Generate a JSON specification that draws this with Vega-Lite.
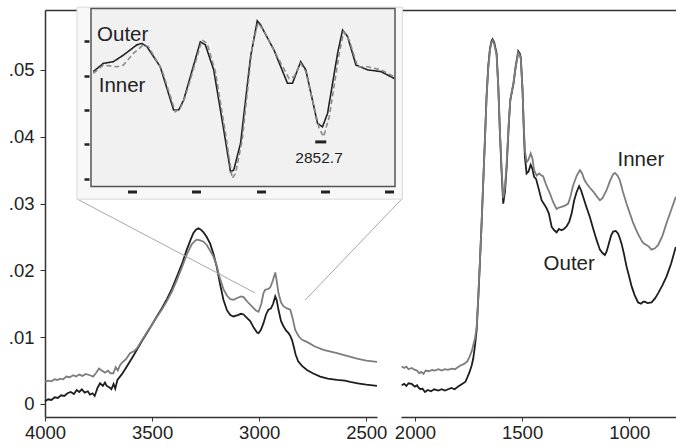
{
  "$schema": "https://vega.github.io/schema/vega-lite/v6.json",
  "width": 631,
  "height": 407,
  "padding": {"left": 45, "top": 10, "right": 0, "bottom": 30},
  "autosize": {"type": "none"},
  "background": "white",
  "config": {
    "view": {"stroke": null},
    "font": "Liberation Sans",
    "axis": {"labelFont": "Liberation Sans", "labelFontSize": 18.5, "labelColor": "#222222", "domainColor": "#333333", "tickColor": "#333333", "grid": false, "labelFlush": false, "labelOverlap": false}
  },
  "datasets": {
    "left": [
      {"wn": 4000, "v": 0.0004, "sample": "Outer"}, {"wn": 3985, "v": 0.0007, "sample": "Outer"}, {"wn": 3970, "v": 0.0006, "sample": "Outer"}, {"wn": 3955, "v": 0.0010, "sample": "Outer"}, {"wn": 3940, "v": 0.0009, "sample": "Outer"}, {"wn": 3925, "v": 0.0013, "sample": "Outer"}, {"wn": 3910, "v": 0.0012, "sample": "Outer"}, {"wn": 3895, "v": 0.0016, "sample": "Outer"}, {"wn": 3880, "v": 0.0018, "sample": "Outer"}, {"wn": 3865, "v": 0.0015, "sample": "Outer"}, {"wn": 3852, "v": 0.0021, "sample": "Outer"}, {"wn": 3840, "v": 0.0018, "sample": "Outer"}, {"wn": 3828, "v": 0.0022, "sample": "Outer"}, {"wn": 3815, "v": 0.0017, "sample": "Outer"}, {"wn": 3800, "v": 0.0019, "sample": "Outer"}, {"wn": 3790, "v": 0.0014, "sample": "Outer"}, {"wn": 3778, "v": 0.0016, "sample": "Outer"}, {"wn": 3768, "v": 0.0012, "sample": "Outer"}, {"wn": 3755, "v": 0.0024, "sample": "Outer"}, {"wn": 3743, "v": 0.0031, "sample": "Outer"}, {"wn": 3730, "v": 0.0027, "sample": "Outer"}, {"wn": 3720, "v": 0.0032, "sample": "Outer"}, {"wn": 3712, "v": 0.0027, "sample": "Outer"}, {"wn": 3700, "v": 0.0025, "sample": "Outer"}, {"wn": 3690, "v": 0.0022, "sample": "Outer"}, {"wn": 3680, "v": 0.0030, "sample": "Outer"}, {"wn": 3672, "v": 0.0023, "sample": "Outer"}, {"wn": 3662, "v": 0.0036, "sample": "Outer"}, {"wn": 3650, "v": 0.0041, "sample": "Outer"}, {"wn": 3640, "v": 0.0045, "sample": "Outer"}, {"wn": 3618, "v": 0.0056, "sample": "Outer"}, {"wn": 3595, "v": 0.0068, "sample": "Outer"}, {"wn": 3571, "v": 0.0081, "sample": "Outer"}, {"wn": 3548, "v": 0.0094, "sample": "Outer"}, {"wn": 3525, "v": 0.0106, "sample": "Outer"}, {"wn": 3500, "v": 0.0119, "sample": "Outer"}, {"wn": 3478, "v": 0.0131, "sample": "Outer"}, {"wn": 3455, "v": 0.0143, "sample": "Outer"}, {"wn": 3431, "v": 0.0157, "sample": "Outer"}, {"wn": 3408, "v": 0.0172, "sample": "Outer"}, {"wn": 3385, "v": 0.0190, "sample": "Outer"}, {"wn": 3360, "v": 0.0210, "sample": "Outer"}, {"wn": 3338, "v": 0.0231, "sample": "Outer"}, {"wn": 3320, "v": 0.0246, "sample": "Outer"}, {"wn": 3307, "v": 0.0256, "sample": "Outer"}, {"wn": 3295, "v": 0.0261, "sample": "Outer"}, {"wn": 3284, "v": 0.0263, "sample": "Outer"}, {"wn": 3272, "v": 0.0261, "sample": "Outer"}, {"wn": 3260, "v": 0.0257, "sample": "Outer"}, {"wn": 3245, "v": 0.0250, "sample": "Outer"}, {"wn": 3229, "v": 0.0240, "sample": "Outer"}, {"wn": 3213, "v": 0.0224, "sample": "Outer"}, {"wn": 3198, "v": 0.0205, "sample": "Outer"}, {"wn": 3183, "v": 0.0180, "sample": "Outer"}, {"wn": 3167, "v": 0.0156, "sample": "Outer"}, {"wn": 3150, "v": 0.0140, "sample": "Outer"}, {"wn": 3135, "v": 0.0133, "sample": "Outer"}, {"wn": 3120, "v": 0.0131, "sample": "Outer"}, {"wn": 3100, "v": 0.0133, "sample": "Outer"}, {"wn": 3085, "v": 0.0135, "sample": "Outer"}, {"wn": 3073, "v": 0.0134, "sample": "Outer"}, {"wn": 3055, "v": 0.0128, "sample": "Outer"}, {"wn": 3042, "v": 0.0124, "sample": "Outer"}, {"wn": 3025, "v": 0.0114, "sample": "Outer"}, {"wn": 3010, "v": 0.0107, "sample": "Outer"}, {"wn": 3003, "v": 0.0106, "sample": "Outer"}, {"wn": 2992, "v": 0.0111, "sample": "Outer"}, {"wn": 2980, "v": 0.0121, "sample": "Outer"}, {"wn": 2968, "v": 0.0134, "sample": "Outer"}, {"wn": 2957, "v": 0.0141, "sample": "Outer"}, {"wn": 2945, "v": 0.0143, "sample": "Outer"}, {"wn": 2935, "v": 0.0150, "sample": "Outer"}, {"wn": 2925, "v": 0.0161, "sample": "Outer"}, {"wn": 2918, "v": 0.0155, "sample": "Outer"}, {"wn": 2910, "v": 0.0141, "sample": "Outer"}, {"wn": 2898, "v": 0.0124, "sample": "Outer"}, {"wn": 2886, "v": 0.0116, "sample": "Outer"}, {"wn": 2875, "v": 0.0110, "sample": "Outer"}, {"wn": 2863, "v": 0.0106, "sample": "Outer"}, {"wn": 2855, "v": 0.0102, "sample": "Outer"}, {"wn": 2847, "v": 0.0096, "sample": "Outer"}, {"wn": 2838, "v": 0.0085, "sample": "Outer"}, {"wn": 2830, "v": 0.0074, "sample": "Outer"}, {"wn": 2818, "v": 0.0064, "sample": "Outer"}, {"wn": 2800, "v": 0.0057, "sample": "Outer"}, {"wn": 2777, "v": 0.0051, "sample": "Outer"}, {"wn": 2750, "v": 0.0046, "sample": "Outer"}, {"wn": 2715, "v": 0.0041, "sample": "Outer"}, {"wn": 2680, "v": 0.0038, "sample": "Outer"}, {"wn": 2637, "v": 0.0036, "sample": "Outer"}, {"wn": 2600, "v": 0.0035, "sample": "Outer"}, {"wn": 2575, "v": 0.0033, "sample": "Outer"}, {"wn": 2540, "v": 0.0031, "sample": "Outer"}, {"wn": 2500, "v": 0.0029, "sample": "Outer"}, {"wn": 2450, "v": 0.0027, "sample": "Outer"},
      {"wn": 4000, "v": 0.0033, "sample": "Inner"}, {"wn": 3985, "v": 0.0035, "sample": "Inner"}, {"wn": 3970, "v": 0.0034, "sample": "Inner"}, {"wn": 3955, "v": 0.0037, "sample": "Inner"}, {"wn": 3940, "v": 0.0036, "sample": "Inner"}, {"wn": 3930, "v": 0.0038, "sample": "Inner"}, {"wn": 3915, "v": 0.0037, "sample": "Inner"}, {"wn": 3900, "v": 0.0041, "sample": "Inner"}, {"wn": 3885, "v": 0.0040, "sample": "Inner"}, {"wn": 3868, "v": 0.0043, "sample": "Inner"}, {"wn": 3855, "v": 0.0041, "sample": "Inner"}, {"wn": 3840, "v": 0.0044, "sample": "Inner"}, {"wn": 3825, "v": 0.0042, "sample": "Inner"}, {"wn": 3810, "v": 0.0045, "sample": "Inner"}, {"wn": 3790, "v": 0.0043, "sample": "Inner"}, {"wn": 3775, "v": 0.0041, "sample": "Inner"}, {"wn": 3760, "v": 0.0047, "sample": "Inner"}, {"wn": 3748, "v": 0.0053, "sample": "Inner"}, {"wn": 3735, "v": 0.0050, "sample": "Inner"}, {"wn": 3720, "v": 0.0047, "sample": "Inner"}, {"wn": 3705, "v": 0.0050, "sample": "Inner"}, {"wn": 3695, "v": 0.0046, "sample": "Inner"}, {"wn": 3681, "v": 0.0046, "sample": "Inner"}, {"wn": 3670, "v": 0.0055, "sample": "Inner"}, {"wn": 3660, "v": 0.0050, "sample": "Inner"}, {"wn": 3650, "v": 0.0058, "sample": "Inner"}, {"wn": 3640, "v": 0.0062, "sample": "Inner"}, {"wn": 3620, "v": 0.0068, "sample": "Inner"}, {"wn": 3603, "v": 0.0076, "sample": "Inner"}, {"wn": 3585, "v": 0.0079, "sample": "Inner"}, {"wn": 3571, "v": 0.0083, "sample": "Inner"}, {"wn": 3548, "v": 0.0095, "sample": "Inner"}, {"wn": 3525, "v": 0.0107, "sample": "Inner"}, {"wn": 3500, "v": 0.0119, "sample": "Inner"}, {"wn": 3478, "v": 0.0130, "sample": "Inner"}, {"wn": 3455, "v": 0.0141, "sample": "Inner"}, {"wn": 3431, "v": 0.0154, "sample": "Inner"}, {"wn": 3408, "v": 0.0168, "sample": "Inner"}, {"wn": 3385, "v": 0.0185, "sample": "Inner"}, {"wn": 3360, "v": 0.0205, "sample": "Inner"}, {"wn": 3338, "v": 0.0224, "sample": "Inner"}, {"wn": 3315, "v": 0.0239, "sample": "Inner"}, {"wn": 3300, "v": 0.0244, "sample": "Inner"}, {"wn": 3291, "v": 0.0246, "sample": "Inner"}, {"wn": 3275, "v": 0.0245, "sample": "Inner"}, {"wn": 3260, "v": 0.0243, "sample": "Inner"}, {"wn": 3245, "v": 0.0238, "sample": "Inner"}, {"wn": 3230, "v": 0.0230, "sample": "Inner"}, {"wn": 3214, "v": 0.0221, "sample": "Inner"}, {"wn": 3200, "v": 0.0209, "sample": "Inner"}, {"wn": 3185, "v": 0.0190, "sample": "Inner"}, {"wn": 3167, "v": 0.0172, "sample": "Inner"}, {"wn": 3150, "v": 0.0162, "sample": "Inner"}, {"wn": 3135, "v": 0.0157, "sample": "Inner"}, {"wn": 3120, "v": 0.0156, "sample": "Inner"}, {"wn": 3100, "v": 0.0159, "sample": "Inner"}, {"wn": 3085, "v": 0.0161, "sample": "Inner"}, {"wn": 3073, "v": 0.0160, "sample": "Inner"}, {"wn": 3055, "v": 0.0153, "sample": "Inner"}, {"wn": 3034, "v": 0.0146, "sample": "Inner"}, {"wn": 3015, "v": 0.0140, "sample": "Inner"}, {"wn": 3003, "v": 0.0138, "sample": "Inner"}, {"wn": 2990, "v": 0.0150, "sample": "Inner"}, {"wn": 2980, "v": 0.0166, "sample": "Inner"}, {"wn": 2972, "v": 0.0171, "sample": "Inner"}, {"wn": 2960, "v": 0.0172, "sample": "Inner"}, {"wn": 2949, "v": 0.0174, "sample": "Inner"}, {"wn": 2937, "v": 0.0184, "sample": "Inner"}, {"wn": 2925, "v": 0.0197, "sample": "Inner"}, {"wn": 2918, "v": 0.0184, "sample": "Inner"}, {"wn": 2910, "v": 0.0166, "sample": "Inner"}, {"wn": 2898, "v": 0.0152, "sample": "Inner"}, {"wn": 2886, "v": 0.0146, "sample": "Inner"}, {"wn": 2870, "v": 0.0143, "sample": "Inner"}, {"wn": 2855, "v": 0.0141, "sample": "Inner"}, {"wn": 2845, "v": 0.0130, "sample": "Inner"}, {"wn": 2832, "v": 0.0111, "sample": "Inner"}, {"wn": 2815, "v": 0.0101, "sample": "Inner"}, {"wn": 2800, "v": 0.0096, "sample": "Inner"}, {"wn": 2777, "v": 0.0093, "sample": "Inner"}, {"wn": 2740, "v": 0.0086, "sample": "Inner"}, {"wn": 2700, "v": 0.0081, "sample": "Inner"}, {"wn": 2637, "v": 0.0076, "sample": "Inner"}, {"wn": 2590, "v": 0.0072, "sample": "Inner"}, {"wn": 2543, "v": 0.0068, "sample": "Inner"}, {"wn": 2500, "v": 0.0065, "sample": "Inner"}, {"wn": 2450, "v": 0.0063, "sample": "Inner"}
    ],
    "right": [
      {"wn": 2062, "v": 0.0028, "sample": "Outer"}, {"wn": 2050, "v": 0.0030, "sample": "Outer"}, {"wn": 2040, "v": 0.0027, "sample": "Outer"}, {"wn": 2030, "v": 0.0031, "sample": "Outer"}, {"wn": 2015, "v": 0.0030, "sample": "Outer"}, {"wn": 2000, "v": 0.0026, "sample": "Outer"}, {"wn": 1990, "v": 0.0028, "sample": "Outer"}, {"wn": 1985, "v": 0.0025, "sample": "Outer"}, {"wn": 1975, "v": 0.0022, "sample": "Outer"}, {"wn": 1965, "v": 0.0023, "sample": "Outer"}, {"wn": 1953, "v": 0.0018, "sample": "Outer"}, {"wn": 1940, "v": 0.0021, "sample": "Outer"}, {"wn": 1925, "v": 0.0019, "sample": "Outer"}, {"wn": 1910, "v": 0.0022, "sample": "Outer"}, {"wn": 1891, "v": 0.0020, "sample": "Outer"}, {"wn": 1875, "v": 0.0022, "sample": "Outer"}, {"wn": 1860, "v": 0.0020, "sample": "Outer"}, {"wn": 1845, "v": 0.0022, "sample": "Outer"}, {"wn": 1830, "v": 0.0024, "sample": "Outer"}, {"wn": 1815, "v": 0.0022, "sample": "Outer"}, {"wn": 1798, "v": 0.0026, "sample": "Outer"}, {"wn": 1780, "v": 0.0030, "sample": "Outer"}, {"wn": 1765, "v": 0.0033, "sample": "Outer"}, {"wn": 1759, "v": 0.0037, "sample": "Outer"}, {"wn": 1745, "v": 0.0048, "sample": "Outer"}, {"wn": 1735, "v": 0.0058, "sample": "Outer"}, {"wn": 1728, "v": 0.0068, "sample": "Outer"}, {"wn": 1720, "v": 0.0087, "sample": "Outer"}, {"wn": 1712, "v": 0.0111, "sample": "Outer"}, {"wn": 1705, "v": 0.0155, "sample": "Outer"}, {"wn": 1697, "v": 0.0211, "sample": "Outer"}, {"wn": 1689, "v": 0.0270, "sample": "Outer"}, {"wn": 1681, "v": 0.0335, "sample": "Outer"}, {"wn": 1673, "v": 0.0400, "sample": "Outer"}, {"wn": 1666, "v": 0.0460, "sample": "Outer"}, {"wn": 1658, "v": 0.0505, "sample": "Outer"}, {"wn": 1650, "v": 0.0532, "sample": "Outer"}, {"wn": 1643, "v": 0.0543, "sample": "Outer"}, {"wn": 1638, "v": 0.0546, "sample": "Outer"}, {"wn": 1630, "v": 0.0541, "sample": "Outer"}, {"wn": 1619, "v": 0.0525, "sample": "Outer"}, {"wn": 1611, "v": 0.0475, "sample": "Outer"}, {"wn": 1604, "v": 0.0410, "sample": "Outer"}, {"wn": 1596, "v": 0.0350, "sample": "Outer"}, {"wn": 1588, "v": 0.0300, "sample": "Outer"}, {"wn": 1580, "v": 0.0318, "sample": "Outer"}, {"wn": 1572, "v": 0.0355, "sample": "Outer"}, {"wn": 1562, "v": 0.0420, "sample": "Outer"}, {"wn": 1555, "v": 0.0455, "sample": "Outer"}, {"wn": 1549, "v": 0.0465, "sample": "Outer"}, {"wn": 1540, "v": 0.0480, "sample": "Outer"}, {"wn": 1530, "v": 0.0505, "sample": "Outer"}, {"wn": 1518, "v": 0.0528, "sample": "Outer"}, {"wn": 1510, "v": 0.0524, "sample": "Outer"}, {"wn": 1506, "v": 0.0518, "sample": "Outer"}, {"wn": 1498, "v": 0.0470, "sample": "Outer"}, {"wn": 1492, "v": 0.0410, "sample": "Outer"}, {"wn": 1487, "v": 0.0370, "sample": "Outer"}, {"wn": 1479, "v": 0.0345, "sample": "Outer"}, {"wn": 1470, "v": 0.0348, "sample": "Outer"}, {"wn": 1460, "v": 0.0358, "sample": "Outer"}, {"wn": 1452, "v": 0.0352, "sample": "Outer"}, {"wn": 1444, "v": 0.0340, "sample": "Outer"}, {"wn": 1435, "v": 0.0337, "sample": "Outer"}, {"wn": 1425, "v": 0.0325, "sample": "Outer"}, {"wn": 1409, "v": 0.0305, "sample": "Outer"}, {"wn": 1395, "v": 0.0298, "sample": "Outer"}, {"wn": 1386, "v": 0.0293, "sample": "Outer"}, {"wn": 1375, "v": 0.0285, "sample": "Outer"}, {"wn": 1362, "v": 0.0265, "sample": "Outer"}, {"wn": 1350, "v": 0.0260, "sample": "Outer"}, {"wn": 1339, "v": 0.0257, "sample": "Outer"}, {"wn": 1328, "v": 0.0262, "sample": "Outer"}, {"wn": 1316, "v": 0.0260, "sample": "Outer"}, {"wn": 1305, "v": 0.0262, "sample": "Outer"}, {"wn": 1292, "v": 0.0266, "sample": "Outer"}, {"wn": 1280, "v": 0.0273, "sample": "Outer"}, {"wn": 1269, "v": 0.0285, "sample": "Outer"}, {"wn": 1257, "v": 0.0305, "sample": "Outer"}, {"wn": 1246, "v": 0.0317, "sample": "Outer"}, {"wn": 1234, "v": 0.0326, "sample": "Outer"}, {"wn": 1225, "v": 0.0320, "sample": "Outer"}, {"wn": 1215, "v": 0.0310, "sample": "Outer"}, {"wn": 1200, "v": 0.0295, "sample": "Outer"}, {"wn": 1184, "v": 0.0280, "sample": "Outer"}, {"wn": 1168, "v": 0.0262, "sample": "Outer"}, {"wn": 1153, "v": 0.0246, "sample": "Outer"}, {"wn": 1137, "v": 0.0231, "sample": "Outer"}, {"wn": 1125, "v": 0.0226, "sample": "Outer"}, {"wn": 1114, "v": 0.0223, "sample": "Outer"}, {"wn": 1106, "v": 0.0228, "sample": "Outer"}, {"wn": 1098, "v": 0.0237, "sample": "Outer"}, {"wn": 1085, "v": 0.0252, "sample": "Outer"}, {"wn": 1075, "v": 0.0258, "sample": "Outer"}, {"wn": 1063, "v": 0.0259, "sample": "Outer"}, {"wn": 1052, "v": 0.0255, "sample": "Outer"}, {"wn": 1044, "v": 0.0248, "sample": "Outer"}, {"wn": 1036, "v": 0.0240, "sample": "Outer"}, {"wn": 1025, "v": 0.0225, "sample": "Outer"}, {"wn": 1013, "v": 0.0206, "sample": "Outer"}, {"wn": 1000, "v": 0.0190, "sample": "Outer"}, {"wn": 989, "v": 0.0176, "sample": "Outer"}, {"wn": 975, "v": 0.0163, "sample": "Outer"}, {"wn": 959, "v": 0.0152, "sample": "Outer"}, {"wn": 945, "v": 0.0150, "sample": "Outer"}, {"wn": 935, "v": 0.0153, "sample": "Outer"}, {"wn": 927, "v": 0.0153, "sample": "Outer"}, {"wn": 915, "v": 0.0151, "sample": "Outer"}, {"wn": 896, "v": 0.0152, "sample": "Outer"}, {"wn": 880, "v": 0.0158, "sample": "Outer"}, {"wn": 865, "v": 0.0166, "sample": "Outer"}, {"wn": 845, "v": 0.0178, "sample": "Outer"}, {"wn": 826, "v": 0.0191, "sample": "Outer"}, {"wn": 805, "v": 0.0210, "sample": "Outer"}, {"wn": 783, "v": 0.0235, "sample": "Outer"},
      {"wn": 2062, "v": 0.0056, "sample": "Inner"}, {"wn": 2050, "v": 0.0054, "sample": "Inner"}, {"wn": 2040, "v": 0.0056, "sample": "Inner"}, {"wn": 2030, "v": 0.0052, "sample": "Inner"}, {"wn": 2015, "v": 0.0054, "sample": "Inner"}, {"wn": 2000, "v": 0.0051, "sample": "Inner"}, {"wn": 1990, "v": 0.0050, "sample": "Inner"}, {"wn": 1980, "v": 0.0046, "sample": "Inner"}, {"wn": 1970, "v": 0.0048, "sample": "Inner"}, {"wn": 1960, "v": 0.0045, "sample": "Inner"}, {"wn": 1950, "v": 0.0050, "sample": "Inner"}, {"wn": 1935, "v": 0.0049, "sample": "Inner"}, {"wn": 1920, "v": 0.0051, "sample": "Inner"}, {"wn": 1907, "v": 0.0050, "sample": "Inner"}, {"wn": 1890, "v": 0.0052, "sample": "Inner"}, {"wn": 1875, "v": 0.0050, "sample": "Inner"}, {"wn": 1860, "v": 0.0052, "sample": "Inner"}, {"wn": 1845, "v": 0.0051, "sample": "Inner"}, {"wn": 1830, "v": 0.0053, "sample": "Inner"}, {"wn": 1813, "v": 0.0052, "sample": "Inner"}, {"wn": 1800, "v": 0.0055, "sample": "Inner"}, {"wn": 1785, "v": 0.0058, "sample": "Inner"}, {"wn": 1770, "v": 0.0060, "sample": "Inner"}, {"wn": 1755, "v": 0.0064, "sample": "Inner"}, {"wn": 1745, "v": 0.0071, "sample": "Inner"}, {"wn": 1735, "v": 0.0079, "sample": "Inner"}, {"wn": 1728, "v": 0.0088, "sample": "Inner"}, {"wn": 1720, "v": 0.0098, "sample": "Inner"}, {"wn": 1712, "v": 0.0115, "sample": "Inner"}, {"wn": 1705, "v": 0.0157, "sample": "Inner"}, {"wn": 1697, "v": 0.0212, "sample": "Inner"}, {"wn": 1689, "v": 0.0270, "sample": "Inner"}, {"wn": 1681, "v": 0.0334, "sample": "Inner"}, {"wn": 1673, "v": 0.0398, "sample": "Inner"}, {"wn": 1666, "v": 0.0457, "sample": "Inner"}, {"wn": 1658, "v": 0.0503, "sample": "Inner"}, {"wn": 1650, "v": 0.0530, "sample": "Inner"}, {"wn": 1643, "v": 0.0541, "sample": "Inner"}, {"wn": 1638, "v": 0.0544, "sample": "Inner"}, {"wn": 1630, "v": 0.0539, "sample": "Inner"}, {"wn": 1619, "v": 0.0522, "sample": "Inner"}, {"wn": 1611, "v": 0.0474, "sample": "Inner"}, {"wn": 1604, "v": 0.0412, "sample": "Inner"}, {"wn": 1596, "v": 0.0355, "sample": "Inner"}, {"wn": 1588, "v": 0.0308, "sample": "Inner"}, {"wn": 1580, "v": 0.0325, "sample": "Inner"}, {"wn": 1572, "v": 0.0360, "sample": "Inner"}, {"wn": 1562, "v": 0.0422, "sample": "Inner"}, {"wn": 1555, "v": 0.0456, "sample": "Inner"}, {"wn": 1549, "v": 0.0466, "sample": "Inner"}, {"wn": 1540, "v": 0.0481, "sample": "Inner"}, {"wn": 1530, "v": 0.0505, "sample": "Inner"}, {"wn": 1518, "v": 0.0526, "sample": "Inner"}, {"wn": 1510, "v": 0.0522, "sample": "Inner"}, {"wn": 1506, "v": 0.0516, "sample": "Inner"}, {"wn": 1498, "v": 0.0470, "sample": "Inner"}, {"wn": 1492, "v": 0.0415, "sample": "Inner"}, {"wn": 1487, "v": 0.0380, "sample": "Inner"}, {"wn": 1479, "v": 0.0362, "sample": "Inner"}, {"wn": 1470, "v": 0.0366, "sample": "Inner"}, {"wn": 1460, "v": 0.0375, "sample": "Inner"}, {"wn": 1452, "v": 0.0368, "sample": "Inner"}, {"wn": 1444, "v": 0.0350, "sample": "Inner"}, {"wn": 1432, "v": 0.0342, "sample": "Inner"}, {"wn": 1420, "v": 0.0345, "sample": "Inner"}, {"wn": 1410, "v": 0.0342, "sample": "Inner"}, {"wn": 1402, "v": 0.0341, "sample": "Inner"}, {"wn": 1390, "v": 0.0330, "sample": "Inner"}, {"wn": 1380, "v": 0.0322, "sample": "Inner"}, {"wn": 1370, "v": 0.0315, "sample": "Inner"}, {"wn": 1355, "v": 0.0302, "sample": "Inner"}, {"wn": 1339, "v": 0.0292, "sample": "Inner"}, {"wn": 1328, "v": 0.0294, "sample": "Inner"}, {"wn": 1316, "v": 0.0295, "sample": "Inner"}, {"wn": 1300, "v": 0.0297, "sample": "Inner"}, {"wn": 1285, "v": 0.0300, "sample": "Inner"}, {"wn": 1275, "v": 0.0310, "sample": "Inner"}, {"wn": 1262, "v": 0.0327, "sample": "Inner"}, {"wn": 1245, "v": 0.0342, "sample": "Inner"}, {"wn": 1230, "v": 0.0350, "sample": "Inner"}, {"wn": 1220, "v": 0.0345, "sample": "Inner"}, {"wn": 1210, "v": 0.0336, "sample": "Inner"}, {"wn": 1199, "v": 0.0330, "sample": "Inner"}, {"wn": 1185, "v": 0.0324, "sample": "Inner"}, {"wn": 1168, "v": 0.0318, "sample": "Inner"}, {"wn": 1150, "v": 0.0310, "sample": "Inner"}, {"wn": 1137, "v": 0.0305, "sample": "Inner"}, {"wn": 1125, "v": 0.0308, "sample": "Inner"}, {"wn": 1106, "v": 0.0320, "sample": "Inner"}, {"wn": 1090, "v": 0.0334, "sample": "Inner"}, {"wn": 1075, "v": 0.0344, "sample": "Inner"}, {"wn": 1067, "v": 0.0346, "sample": "Inner"}, {"wn": 1055, "v": 0.0342, "sample": "Inner"}, {"wn": 1044, "v": 0.0335, "sample": "Inner"}, {"wn": 1030, "v": 0.0318, "sample": "Inner"}, {"wn": 1013, "v": 0.0300, "sample": "Inner"}, {"wn": 1000, "v": 0.0288, "sample": "Inner"}, {"wn": 982, "v": 0.0271, "sample": "Inner"}, {"wn": 960, "v": 0.0255, "sample": "Inner"}, {"wn": 945, "v": 0.0246, "sample": "Inner"}, {"wn": 935, "v": 0.0241, "sample": "Inner"}, {"wn": 920, "v": 0.0238, "sample": "Inner"}, {"wn": 910, "v": 0.0236, "sample": "Inner"}, {"wn": 896, "v": 0.0231, "sample": "Inner"}, {"wn": 880, "v": 0.0233, "sample": "Inner"}, {"wn": 865, "v": 0.0238, "sample": "Inner"}, {"wn": 845, "v": 0.0252, "sample": "Inner"}, {"wn": 826, "v": 0.0271, "sample": "Inner"}, {"wn": 805, "v": 0.0290, "sample": "Inner"}, {"wn": 783, "v": 0.0310, "sample": "Inner"}
    ],
    "inset": [
      {"wn": 3030.2, "v": 1.12, "sample": "Outer"}, {"wn": 3022.4, "v": 1.36, "sample": "Outer"}, {"wn": 3014.6, "v": 1.41, "sample": "Outer"}, {"wn": 3006.8, "v": 1.60, "sample": "Outer"}, {"wn": 2996.3, "v": 1.90, "sample": "Outer"}, {"wn": 2992.4, "v": 1.94, "sample": "Outer"}, {"wn": 2988.5, "v": 1.85, "sample": "Outer"}, {"wn": 2978.1, "v": 1.26, "sample": "Outer"}, {"wn": 2967.7, "v": 0.0, "sample": "Outer"}, {"wn": 2963.8, "v": 0.0, "sample": "Outer"}, {"wn": 2959.9, "v": 0.29, "sample": "Outer"}, {"wn": 2946.9, "v": 1.99, "sample": "Outer"}, {"wn": 2943.0, "v": 1.90, "sample": "Outer"}, {"wn": 2936.5, "v": 1.17, "sample": "Outer"}, {"wn": 2928.7, "v": -0.58, "sample": "Outer"}, {"wn": 2923.4, "v": -1.80, "sample": "Outer"}, {"wn": 2920.9, "v": -1.75, "sample": "Outer"}, {"wn": 2915.6, "v": -0.97, "sample": "Outer"}, {"wn": 2907.8, "v": 1.55, "sample": "Outer"}, {"wn": 2902.6, "v": 2.60, "sample": "Outer"}, {"wn": 2900.0, "v": 2.48, "sample": "Outer"}, {"wn": 2889.6, "v": 1.75, "sample": "Outer"}, {"wn": 2879.1, "v": 0.78, "sample": "Outer"}, {"wn": 2875.2, "v": 0.78, "sample": "Outer"}, {"wn": 2868.8, "v": 1.41, "sample": "Outer"}, {"wn": 2864.8, "v": 1.17, "sample": "Outer"}, {"wn": 2855.7, "v": -0.39, "sample": "Outer"}, {"wn": 2851.8, "v": -0.49, "sample": "Outer"}, {"wn": 2847.9, "v": -0.10, "sample": "Outer"}, {"wn": 2840.1, "v": 1.65, "sample": "Outer"}, {"wn": 2836.2, "v": 2.33, "sample": "Outer"}, {"wn": 2832.3, "v": 2.14, "sample": "Outer"}, {"wn": 2825.8, "v": 1.31, "sample": "Outer"}, {"wn": 2816.6, "v": 1.17, "sample": "Outer"}, {"wn": 2806.3, "v": 1.12, "sample": "Outer"}, {"wn": 2796.0, "v": 0.92, "sample": "Outer"},
      {"wn": 3030.2, "v": 1.07, "sample": "Inner"}, {"wn": 3022.4, "v": 1.31, "sample": "Inner"}, {"wn": 3011.9, "v": 1.26, "sample": "Inner"}, {"wn": 3006.8, "v": 1.31, "sample": "Inner"}, {"wn": 2999.0, "v": 1.65, "sample": "Inner"}, {"wn": 2991.2, "v": 1.90, "sample": "Inner"}, {"wn": 2987.3, "v": 1.85, "sample": "Inner"}, {"wn": 2976.8, "v": 1.17, "sample": "Inner"}, {"wn": 2966.4, "v": -0.05, "sample": "Inner"}, {"wn": 2962.5, "v": 0.05, "sample": "Inner"}, {"wn": 2958.6, "v": 0.39, "sample": "Inner"}, {"wn": 2945.6, "v": 2.04, "sample": "Inner"}, {"wn": 2941.6, "v": 1.94, "sample": "Inner"}, {"wn": 2935.2, "v": 1.12, "sample": "Inner"}, {"wn": 2927.3, "v": -0.68, "sample": "Inner"}, {"wn": 2922.1, "v": -1.99, "sample": "Inner"}, {"wn": 2919.5, "v": -1.85, "sample": "Inner"}, {"wn": 2914.3, "v": -0.87, "sample": "Inner"}, {"wn": 2906.5, "v": 1.85, "sample": "Inner"}, {"wn": 2902.1, "v": 2.53, "sample": "Inner"}, {"wn": 2898.7, "v": 2.38, "sample": "Inner"}, {"wn": 2888.3, "v": 1.65, "sample": "Inner"}, {"wn": 2877.9, "v": 0.92, "sample": "Inner"}, {"wn": 2874.0, "v": 0.97, "sample": "Inner"}, {"wn": 2868.8, "v": 1.36, "sample": "Inner"}, {"wn": 2864.8, "v": 1.12, "sample": "Inner"}, {"wn": 2854.5, "v": -0.53, "sample": "Inner"}, {"wn": 2851.0, "v": -0.78, "sample": "Inner"}, {"wn": 2846.6, "v": -0.20, "sample": "Inner"}, {"wn": 2838.8, "v": 1.65, "sample": "Inner"}, {"wn": 2835.4, "v": 2.28, "sample": "Inner"}, {"wn": 2831.0, "v": 2.04, "sample": "Inner"}, {"wn": 2824.5, "v": 1.26, "sample": "Inner"}, {"wn": 2816.6, "v": 1.26, "sample": "Inner"}, {"wn": 2806.3, "v": 1.17, "sample": "Inner"}, {"wn": 2796.0, "v": 0.97, "sample": "Inner"}
    ]
  },
  "layer": [
    {
      "data": {"name": "left"},
      "mark": {"type": "line", "opacity": 0},
      "encoding": {
        "x": {"field": "wn", "type": "quantitative", "scale": {"domain": [4000, 2450], "range": [0, 631], "nice": false, "zero": false}, "axis": {"orient": "top", "title": null, "labels": false, "ticks": false, "domainWidth": 1.5, "domainColor": "#333333"}},
        "y": {"field": "v", "type": "quantitative", "scale": {"domain": [-0.00195, 0.05898], "range": [407, 0], "nice": false, "zero": false}, "axis": null}
      }
    },
    {
      "data": {"name": "left"},
      "mark": {"type": "line", "strokeWidth": 1.8},
      "encoding": {
        "x": {"field": "wn", "type": "quantitative", "scale": {"domain": [4000, 2450], "range": [0, 332], "nice": false, "zero": false}, "axis": {"orient": "bottom", "title": null, "values": [4000, 3500, 3000, 2500], "format": "d", "tickSize": 4, "labelPadding": 2, "domainWidth": 1.5, "labelFlush": false, "labelFontSize": 18.5}},
        "y": {"field": "v", "type": "quantitative", "scale": {"domain": [-0.00195, 0.05898], "range": [407, 0], "nice": false, "zero": false}, "axis": {"orient": "left", "title": null, "values": [0, 0.01, 0.02, 0.03, 0.04, 0.05], "labelExpr": "datum.value == 0 ? '0' : replace(format(datum.value, '.2f'), '0.', '.')", "tickSize": 5, "labelPadding": 6, "domainWidth": 1.5, "labelFontSize": 18.5}},
        "color": {"field": "sample", "type": "nominal", "scale": {"domain": ["Inner", "Outer"], "range": ["#7d7d7d", "#1e1e1e"]}, "legend": null}
      }
    },
    {
      "data": {"name": "right"},
      "mark": {"type": "line", "strokeWidth": 1.8},
      "encoding": {
        "x": {"field": "wn", "type": "quantitative", "scale": {"domain": [2065, 782], "range": [356, 631], "nice": false, "zero": false}, "axis": {"orient": "bottom", "title": null, "values": [2000, 1500, 1000], "format": "d", "tickSize": 4, "labelPadding": 2, "domainWidth": 1.5, "labelFlush": false, "labelFontSize": 18.5}},
        "y": {"field": "v", "type": "quantitative", "scale": {"domain": [-0.00195, 0.05898], "range": [407, 0], "nice": false, "zero": false}, "axis": null},
        "color": {"field": "sample", "type": "nominal", "scale": {"domain": ["Inner", "Outer"], "range": ["#7d7d7d", "#1e1e1e"]}, "legend": null}
      }
    },
    {
      "data": {"values": [{"wn": 1055, "v": 0.0357, "label": "Inner"}, {"wn": 1400, "v": 0.0200, "label": "Outer"}]},
      "mark": {"type": "text", "align": "left", "baseline": "alphabetic", "fontSize": 20.5, "font": "Liberation Sans", "color": "#222222"},
      "encoding": {
        "x": {"field": "wn", "type": "quantitative", "scale": {"domain": [2065, 782], "range": [356, 631], "nice": false, "zero": false}, "axis": null},
        "y": {"field": "v", "type": "quantitative", "scale": {"domain": [-0.00195, 0.05898], "range": [407, 0], "nice": false, "zero": false}, "axis": null},
        "text": {"field": "label"}
      }
    },
    {
      "data": {"values": [{"a": 3850.5, "b": 0.03069, "c": 3018.7, "d": 0.01662}, {"a": 2334, "b": 0.03069, "c": 2785, "d": 0.01557}]},
      "mark": {"type": "rule", "color": "#a8a8a8", "strokeWidth": 1},
      "encoding": {
        "x": {"field": "a", "type": "quantitative", "scale": {"domain": [4000, 2450], "range": [0, 332], "nice": false, "zero": false}, "axis": null},
        "x2": {"field": "c"},
        "y": {"field": "b", "type": "quantitative", "scale": {"domain": [-0.00195, 0.05898], "range": [407, 0], "nice": false, "zero": false}, "axis": null},
        "y2": {"field": "d"}
      }
    },
    {
      "data": {"values": [{"a": 3042.9, "b": 3.0, "c": 2789.6, "d": -2.6}]},
      "mark": {"type": "rect", "fill": "#f8f8f8", "stroke": "#d9d9d9", "strokeWidth": 1},
      "encoding": {
        "x": {"field": "a", "type": "quantitative", "scale": {"domain": [3032, 2795.4], "range": [46, 350], "nice": false, "zero": false}, "axis": null},
        "x2": {"field": "c"},
        "y": {"field": "b", "type": "quantitative", "scale": {"domain": [-2.23, 2.96], "range": [176.5, -1.5], "nice": false, "zero": false}, "axis": null},
        "y2": {"field": "d"}
      }
    },
    {
      "data": {"values": [{"a": 3032, "b": 2.96, "c": 2795.4, "d": -2.23}]},
      "mark": {"type": "rect", "fill": "#f1f1f1", "stroke": "#555555", "strokeWidth": 1.5},
      "encoding": {
        "x": {"field": "a", "type": "quantitative", "scale": {"domain": [3032, 2795.4], "range": [46, 350], "nice": false, "zero": false}, "axis": {"orient": "bottom", "title": null, "values": [3000, 2950, 2900, 2850, 2800], "labels": false, "domain": false, "tickSize": 3, "tickWidth": 9, "tickColor": "#222222", "offset": -227, "zindex": 2}},
        "x2": {"field": "c"},
        "y": {"field": "b", "type": "quantitative", "scale": {"domain": [-2.23, 2.96], "range": [176.5, -1.5], "nice": false, "zero": false}, "axis": {"orient": "left", "title": null, "values": [2, 1, 0, -1, -2], "labels": false, "domain": false, "tickSize": 5, "tickWidth": 2.5, "tickColor": "#222222", "offset": -44, "zindex": 2}},
        "y2": {"field": "d"}
      }
    },
    {
      "data": {"name": "inset"},
      "mark": {"type": "line", "strokeWidth": 1.6},
      "encoding": {
        "x": {"field": "wn", "type": "quantitative", "scale": {"domain": [3032, 2795.4], "range": [46, 350], "nice": false, "zero": false}, "axis": null},
        "y": {"field": "v", "type": "quantitative", "scale": {"domain": [-2.23, 2.96], "range": [176.5, -1.5], "nice": false, "zero": false}, "axis": null},
        "color": {"field": "sample", "type": "nominal", "scale": {"domain": ["Inner", "Outer"], "range": ["#8a8a8a", "#222222"]}, "legend": null},
        "strokeDash": {"field": "sample", "type": "nominal", "scale": {"domain": ["Inner", "Outer"], "range": [[5, 3], [1, 0]]}, "legend": null}
      }
    },
    {
      "data": {"values": [{"wn": 3027.3, "v": 2.02, "label": "Outer"}, {"wn": 3026, "v": 0.53, "label": "Inner"}]},
      "mark": {"type": "text", "align": "left", "baseline": "alphabetic", "fontSize": 20.5, "font": "Liberation Sans", "color": "#222222"},
      "encoding": {
        "x": {"field": "wn", "type": "quantitative", "scale": {"domain": [3032, 2795.4], "range": [46, 350], "nice": false, "zero": false}, "axis": null},
        "y": {"field": "v", "type": "quantitative", "scale": {"domain": [-2.23, 2.96], "range": [176.5, -1.5], "nice": false, "zero": false}, "axis": null},
        "text": {"field": "label"}
      }
    },
    {
      "data": {"values": [{"wn": 2854.5, "v": -1.55, "label": "2852.7"}]},
      "mark": {"type": "text", "align": "center", "baseline": "alphabetic", "fontSize": 15.5, "font": "Liberation Sans", "color": "#222222"},
      "encoding": {
        "x": {"field": "wn", "type": "quantitative", "scale": {"domain": [3032, 2795.4], "range": [46, 350], "nice": false, "zero": false}, "axis": null},
        "y": {"field": "v", "type": "quantitative", "scale": {"domain": [-2.23, 2.96], "range": [176.5, -1.5], "nice": false, "zero": false}, "axis": null},
        "text": {"field": "label"}
      }
    },
    {
      "data": {"values": [{"wn": 2853.2, "v": -0.93}]},
      "mark": {"type": "tick", "orient": "horizontal", "size": 11, "thickness": 3, "color": "#222222", "opacity": 1},
      "encoding": {
        "x": {"field": "wn", "type": "quantitative", "scale": {"domain": [3032, 2795.4], "range": [46, 350], "nice": false, "zero": false}, "axis": null},
        "y": {"field": "v", "type": "quantitative", "scale": {"domain": [-2.23, 2.96], "range": [176.5, -1.5], "nice": false, "zero": false}, "axis": null}
      }
    }
  ],
  "resolve": {
    "scale": {"x": "independent", "y": "independent", "color": "independent", "strokeDash": "independent"},
    "axis": {"x": "independent", "y": "independent"}
  }
}
